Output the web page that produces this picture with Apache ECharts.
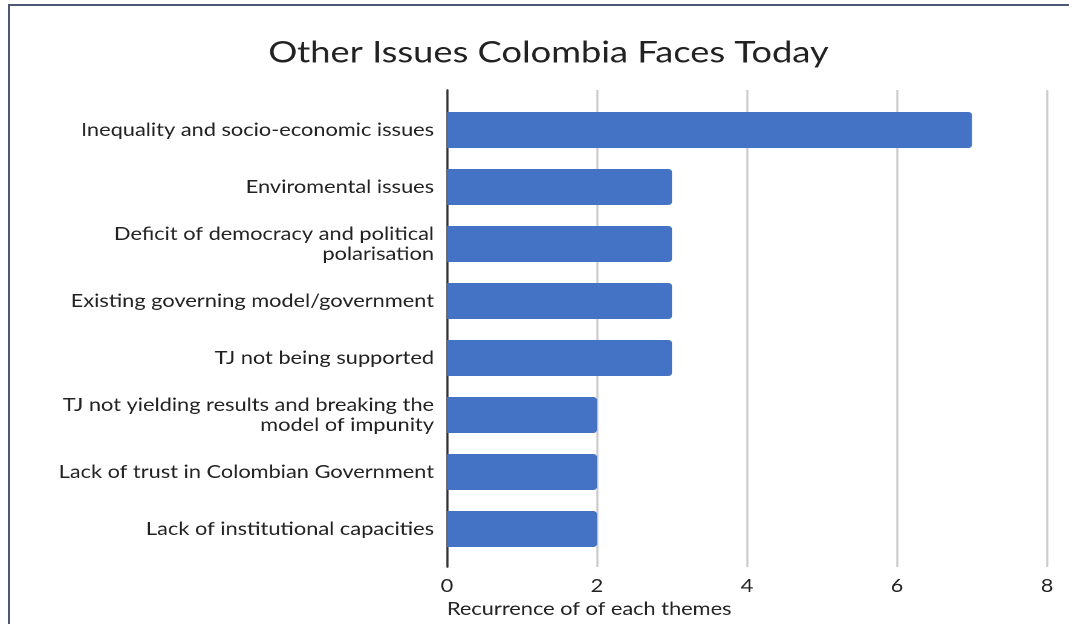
<!DOCTYPE html>
<html>
<head>
<meta charset="utf-8">
<script src="https://cdn.jsdelivr.net/npm/echarts@6/dist/echarts.min.js"></script>
<style>
  html, body { margin: 0; padding: 0; background: #fff; overflow: hidden; }
  /* the reference picture is stretched sideways, so the chart is drawn narrower and widened */
  #chart { width: 884px; height: 624px; transform: scaleX(1.2093); transform-origin: 0 0; }
  #frame { position: absolute; left: 8px; top: 4px; width: 1070px; height: 630px;
           border-left: 2px solid #4d5872; border-top: 2px solid #4d5872; pointer-events: none; }
</style>
</head>
<body>
<div id="chart"></div>
<div id="frame"></div>
<script>
  // categories top to bottom
  var issues = [
    'Inequality and socio-economic issues',
    'Enviromental issues',
    'Deficit of democracy and political\npolarisation',
    'Existing governing model/government',
    'TJ not being supported',
    'TJ not yielding results and breaking the\nmodel of impunity',
    'Lack of trust in Colombian Government',
    'Lack of institutional capacities'
  ];
  var recurrence = [7, 3, 3, 3, 3, 2, 2, 2];
  var xMax = 8;
  var xStep = 2;

  var chart = echarts.init(document.getElementById('chart'), null, { devicePixelRatio: 2 });
  chart.setOption({
    animation: false,
    textStyle: { fontFamily: 'Lato' },
    title: {
      text: 'Other Issues Colombia Faces Today',
      left: 448.5,
      textAlign: 'center',
      top: 33,
      textStyle: { fontFamily: 'Lato', fontSize: 30, fontWeight: 'normal', color: '#222' }
    },
    grid: [
      // bars
      { left: 369.6, top: 101.5, width: 496.2, height: 456 },
      // gridlines and axis line, a bit taller than the bars' band
      { left: 369.6, top: 90, width: 496.2, height: 477 }
    ],
    xAxis: [
      {
        gridIndex: 0, type: 'value', min: 0, max: xMax, interval: xStep,
        axisLine: { show: false }, axisTick: { show: false },
        axisLabel: { show: false }, splitLine: { show: false }
      },
      {
        gridIndex: 1, type: 'value', min: 0, max: xMax, interval: xStep,
        axisLine: { show: false }, axisTick: { show: false },
        axisLabel: { fontSize: 18, color: '#222', margin: 10 },
        splitLine: { show: true, lineStyle: { color: '#cccccc', width: 1.7 } },
        name: 'Recurrence of of each themes',
        nameLocation: 'start',
        nameGap: 0,
        nameTextStyle: { fontSize: 18, color: '#222', align: 'left', verticalAlign: 'top', padding: [33, 0, 0, 0] }
      }
    ],
    yAxis: [
      {
        gridIndex: 0, type: 'category', data: issues, inverse: true,
        axisLine: { show: false }, axisTick: { show: false },
        axisLabel: { fontSize: 18, color: '#222', margin: 10.7, lineHeight: 20, align: 'right' }
      },
      {
        gridIndex: 1, type: 'value', min: 0, max: 1,
        axisLine: { show: true, onZero: false, lineStyle: { color: '#333', width: 1.7 } },
        axisTick: { show: false }, axisLabel: { show: false }, splitLine: { show: false }
      }
    ],
    series: [{
      type: 'bar',
      xAxisIndex: 0,
      yAxisIndex: 0,
      data: recurrence,
      barWidth: 36,
      itemStyle: { color: '#4472c4', borderRadius: [0, 3, 3, 0] }
    }]
  });
</script>
</body>
</html>
